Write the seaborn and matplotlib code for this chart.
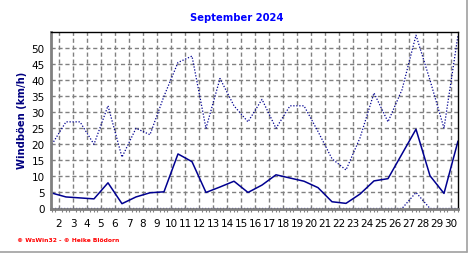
import numpy as np
import pandas as pd
import matplotlib
matplotlib.use("Agg")
import matplotlib.pyplot as plt
import seaborn as sns
from matplotlib.ticker import MultipleLocator, FixedLocator
from matplotlib.lines import Line2D

days = list(range(1, 31))
gust_max = [20, 27, 27, 20, 32, 16, 25, 23, 35, 45.5, 47.5, 25, 40.5, 32, 27,
            34, 25, 32, 32, 24, 15.5, 12, 22, 36, 27, 37, 54, 40, 25, 54]
gust_mean = [4.8, 3.6, 3.3, 3.0, 8.0, 1.5, 3.6, 4.9, 5.2, 17.0, 14.6, 5.0, 6.7, 8.5, 5.0,
             7.3, 10.5, 9.5, 8.5, 6.5, 2.1, 1.6, 4.5, 8.6, 9.3, 17.0, 24.7, 10.2, 4.7, 21.0]
gust_min = [0] * 26 + [5] + [0] * 3
tick_days = list(range(2, 31))
y_ticks = list(range(0, 55, 5))
title = "September 2024"
ylabel = "Windböen (km/h)"
credit = "© WsWin32 - © Heike Blödorn"

sns.set_theme(style="white")
plt.rcParams['font.family'] = ['DejaVu Sans']

df = pd.DataFrame({"x": [d + 0.5 for d in days], "max": gust_max,
                   "mean": gust_mean, "min": gust_min})

fig = plt.figure(figsize=(4.72, 2.55), dpi=100)
ax = fig.add_axes([51/472, 1 - 209.5/255, (458 - 51)/472, (209.5 - 33)/255])

line_col = "#000090"
sns.lineplot(data=df, x="x", y="max", ax=ax, color=line_col, lw=0.9,
             linestyle=(0, (1, 1.4)))
sns.lineplot(data=df, x="x", y="mean", ax=ax, color=line_col, lw=1.1)
sns.lineplot(data=df, x="x", y="min", ax=ax, color=line_col, lw=0.9,
             linestyle=(0, (1, 1.4)))

ax.set_xlim(1.43, 30.5)
ax.set_ylim(0, 55)
ax.xaxis.set_major_locator(FixedLocator(tick_days))
ax.set_xticklabels([str(d) for d in tick_days])
ax.xaxis.set_minor_locator(MultipleLocator(0.25))
ax.yaxis.set_major_locator(FixedLocator(y_ticks))
ax.set_yticklabels([str(v) for v in y_ticks])

ax.grid(True, which="major", color="#808080", linestyle=(0, (3, 2)), lw=1.0)
ax.set_axisbelow(True)

ax.tick_params(axis="both", which="major", direction="out", length=3, width=1,
               color="#808080", labelsize=7.5, labelcolor="black", pad=1.5)
ax.tick_params(axis="x", which="minor", direction="out", length=2.5, width=0.8,
               color="#808080", bottom=True)
ax.tick_params(axis="x", which="major", pad=4)

for s in ["left", "bottom"]:
    ax.spines[s].set_color("#808080")
    ax.spines[s].set_linewidth(2)
for s in ["top", "right"]:
    ax.spines[s].set_color("black")
    ax.spines[s].set_linewidth(1)

ax.set_xlabel("")
ax.set_ylabel("")
fig.text(22/472, 1 - 120/255, ylabel, rotation=90, ha="center", va="center",
         fontsize=7.2, fontweight="bold", color="#000080")
fig.text(237/472, 1 - 18/255, title, ha="center", va="center",
         fontsize=7.2, fontweight="bold", color="#0000FF")
fig.text(17/472, 1 - 241/255, credit, ha="left", va="center",
         fontsize=4.3, fontweight="bold", color="#FF0000")

fig.add_artist(Line2D([466.5/472, 466.5/472], [1 - 253/255, 1], color="#A0A0A0", lw=1.2,
                      transform=fig.transFigure))
fig.add_artist(Line2D([0, 466.5/472], [1 - 253/255, 1 - 253/255], color="#A0A0A0", lw=1.2,
                      transform=fig.transFigure))

fig.savefig("out.png", dpi=100, facecolor="white")
